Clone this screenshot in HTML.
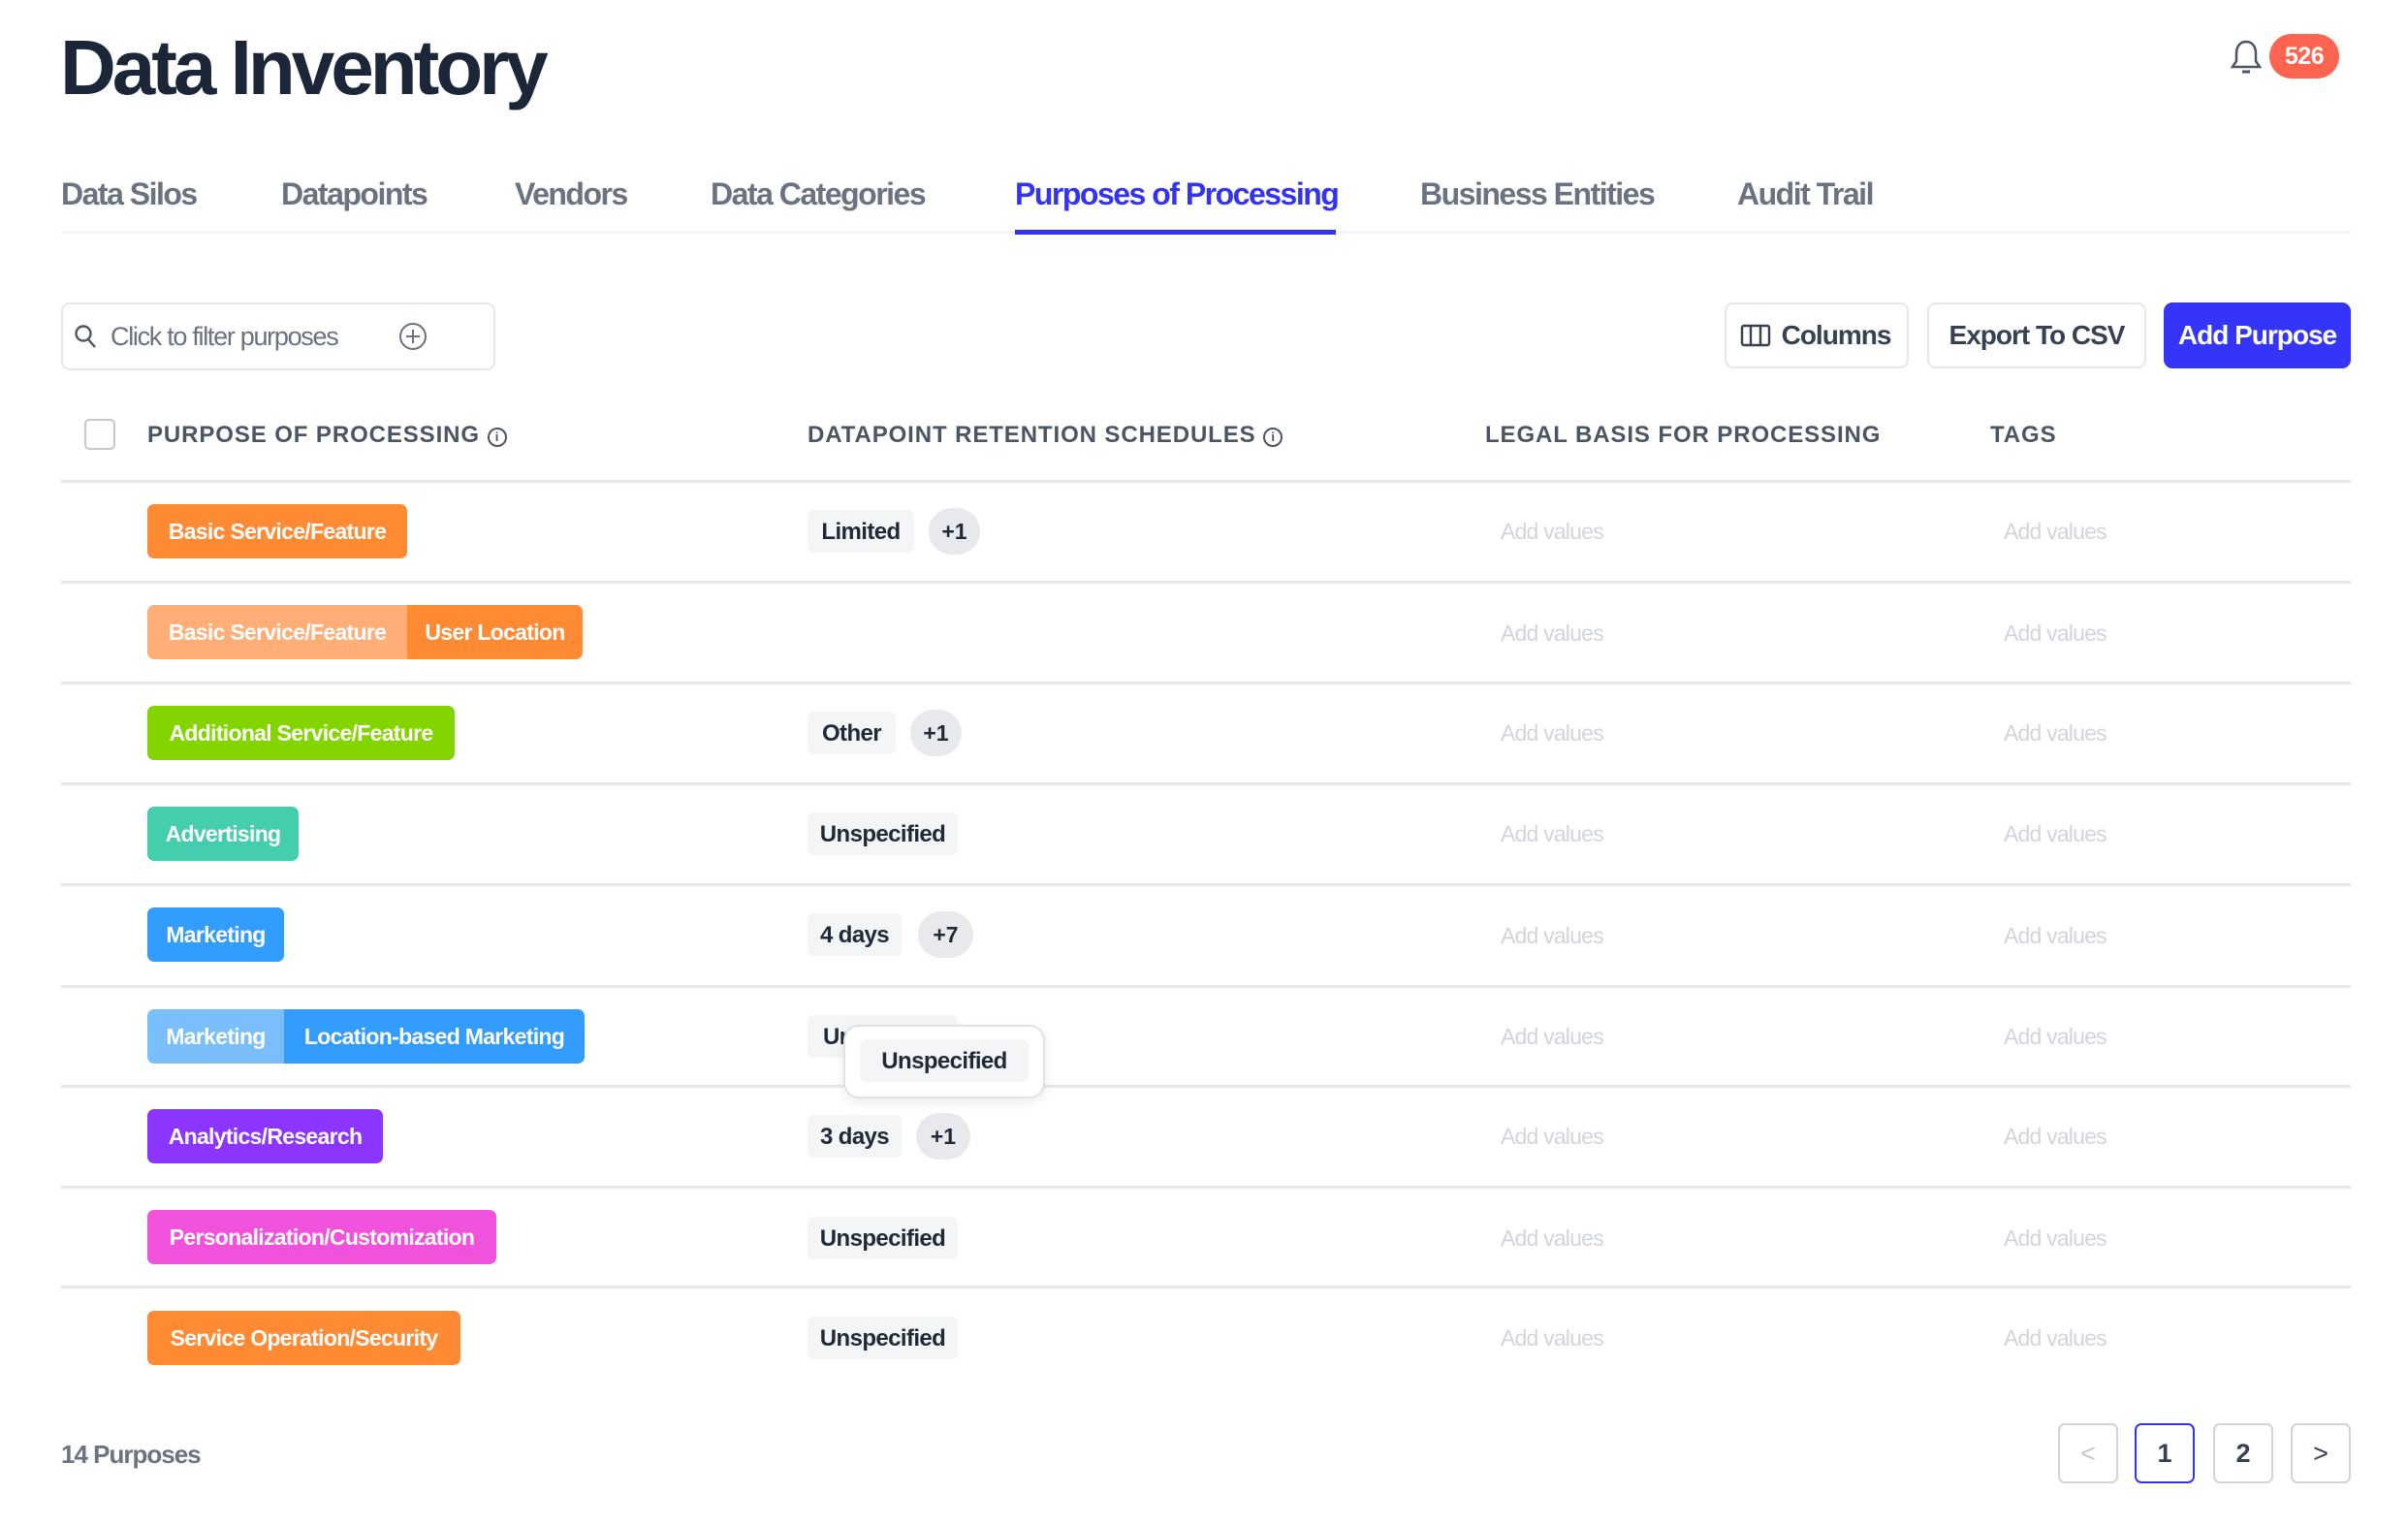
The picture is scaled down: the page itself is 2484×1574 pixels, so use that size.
<!DOCTYPE html>
<html><head><meta charset="utf-8"><style>
*{margin:0;padding:0;box-sizing:border-box}
body{width:2484px;height:1574px;background:#fff;font-family:"Liberation Sans",sans-serif;position:relative;overflow:hidden}
.a{position:absolute;white-space:nowrap}
.tab{top:178px;font-size:32px;font-weight:bold;letter-spacing:-1.5px;color:#6b7280;line-height:44px}
.hd{top:434px;font-size:24px;font-weight:bold;letter-spacing:0.9px;color:#4b5563;line-height:30px}
.line{left:63px;width:2362px;height:3px;background:#e8e8ea}
.tag{height:56px;line-height:56px;color:#fff;font-weight:bold;font-size:23px;letter-spacing:-0.7px;text-align:center;border-radius:7px}
.chip{height:44px;line-height:46px;background:#f4f5f7;color:#1f2937;font-weight:bold;font-size:24px;letter-spacing:-0.6px;text-align:center;border-radius:7px}
.plus{height:48px;line-height:48px;background:#e8e9ed;color:#1f2937;font-weight:bold;font-size:23px;text-align:center;border-radius:24px}
.av{font-size:23px;color:#d1d5db;letter-spacing:-0.8px;line-height:30px}
.btn{top:312px;height:68px;border:2px solid #e5e7eb;border-radius:9px;font-size:28px;font-weight:bold;letter-spacing:-1px;color:#374151;line-height:64px;text-align:center}
.pg{top:1468px;width:62px;height:62px;border:2px solid #d1d5db;border-radius:7px;text-align:center;line-height:58px;font-size:27px;font-weight:bold;color:#374151}
</style></head><body>
<div class="a" style="left:62px;top:20px;font-size:80px;font-weight:bold;letter-spacing:-4px;color:#1b2638;line-height:100px">Data Inventory</div>
<svg class="a" style="left:2300px;top:40px" width="34" height="40" viewBox="0 0 34 40"><path d="M17 3c-7 0-10 6-10 12v8l-4 6h28l-4-6v-8c0-6-3-12-10-12z" fill="none" stroke="#4b5563" stroke-width="2.5"/><path d="M13 34h8" stroke="#4b5563" stroke-width="3"/></svg>
<div class="a" style="left:2341px;top:35px;width:72px;height:46px;border-radius:23px;background:#ff6450;color:#fff;font-weight:bold;font-size:25px;text-align:center;line-height:46px;letter-spacing:-0.5px">526</div>

<div class="a tab" style="left:63px">Data Silos</div>
<div class="a tab" style="left:290px">Datapoints</div>
<div class="a tab" style="left:531px">Vendors</div>
<div class="a tab" style="left:733px">Data Categories</div>
<div class="a tab" style="left:1047px;color:#3333f5">Purposes of Processing</div>
<div class="a tab" style="left:1465px">Business Entities</div>
<div class="a tab" style="left:1792px">Audit Trail</div>
<div class="a" style="left:63px;top:238px;width:2362px;height:3px;background:#f3f4f6"></div>
<div class="a" style="left:1047px;top:237px;width:331px;height:5px;background:#3333f5"></div>

<div class="a" style="left:63px;top:312px;width:448px;height:70px;border:2px solid #e5e7eb;border-radius:9px"></div>
<svg class="a" style="left:76px;top:334px" width="26" height="28" viewBox="0 0 26 28"><circle cx="10" cy="10" r="7.5" fill="none" stroke="#4b5563" stroke-width="2.4"/><path d="M15 16l7 8" stroke="#4b5563" stroke-width="2.4"/></svg>
<div class="a" style="left:114px;top:330px;font-size:27px;color:#6b7280;letter-spacing:-1.3px;line-height:34px">Click to filter purposes</div>
<svg class="a" style="left:411px;top:332px" width="30" height="30" viewBox="0 0 30 30"><circle cx="15" cy="15" r="13" fill="none" stroke="#6b7280" stroke-width="2"/><path d="M15 8v14M8 15h14" stroke="#6b7280" stroke-width="2"/></svg>

<div class="a btn" style="left:1779px;width:190px;padding-left:40px">Columns</div>
<svg class="a" style="left:1795px;top:334px" width="32" height="24" viewBox="0 0 32 24"><rect x="2" y="2" width="28" height="20" rx="2" fill="none" stroke="#374151" stroke-width="2.4"/><path d="M11 2v20M21 2v20" stroke="#374151" stroke-width="2.4"/></svg>
<div class="a btn" style="left:1988px;width:226px">Export To CSV</div>
<div class="a btn" style="left:2232px;width:193px;background:#3535fa;border-color:#3535fa;color:#fff">Add Purpose</div>

<div class="a" style="left:87px;top:432px;width:32px;height:32px;border:2px solid #c4c8cf;border-radius:5px"></div>
<div class="a hd" style="left:152px">PURPOSE OF PROCESSING <span style="display:inline-block;width:20px;height:20px;border:2px solid #4b5563;border-radius:50%;font-size:13px;line-height:16px;text-align:center;vertical-align:1px;letter-spacing:0">i</span></div>
<div class="a hd" style="left:833px">DATAPOINT RETENTION SCHEDULES <span style="display:inline-block;width:20px;height:20px;border:2px solid #4b5563;border-radius:50%;font-size:13px;line-height:16px;text-align:center;vertical-align:1px;letter-spacing:0">i</span></div>
<div class="a hd" style="left:1532px">LEGAL BASIS FOR PROCESSING</div>
<div class="a hd" style="left:2053px">TAGS</div>

<div class="a line" style="top:495px"></div>
<div class="a line" style="top:599px"></div>
<div class="a line" style="top:703px"></div>
<div class="a line" style="top:807px"></div>
<div class="a line" style="top:911px"></div>
<div class="a line" style="top:1016px"></div>
<div class="a line" style="top:1119px"></div>
<div class="a line" style="top:1223px"></div>
<div class="a line" style="top:1326px"></div>

<div class="a tag" style="left:152px;top:520px;width:268px;background:#ff8a34">Basic Service/Feature</div>
<div class="a chip" style="left:833px;top:526px;width:110px">Limited</div>
<div class="a plus" style="left:958px;top:524px;width:53px">+1</div>
<div class="a tag" style="left:152px;top:624px;width:268px;background:#ffae78;border-radius:7px 0 0 7px">Basic Service/Feature</div>
<div class="a tag" style="left:420px;top:624px;width:181px;background:#ff8a34;border-radius:0 7px 7px 0">User Location</div>
<div class="a tag" style="left:152px;top:728px;width:317px;background:#84d400">Additional Service/Feature</div>
<div class="a chip" style="left:833px;top:734px;width:91px">Other</div>
<div class="a plus" style="left:939px;top:732px;width:53px">+1</div>
<div class="a tag" style="left:152px;top:832px;width:156px;background:#45ceae">Advertising</div>
<div class="a chip" style="left:833px;top:838px;width:155px">Unspecified</div>
<div class="a tag" style="left:152px;top:936px;width:141px;background:#339cff">Marketing</div>
<div class="a chip" style="left:833px;top:942px;width:97px">4 days</div>
<div class="a plus" style="left:947px;top:940px;width:57px">+7</div>
<div class="a tag" style="left:152px;top:1041px;width:141px;background:#7bbefc;border-radius:7px 0 0 7px">Marketing</div>
<div class="a tag" style="left:293px;top:1041px;width:310px;background:#339cff;border-radius:0 7px 7px 0">Location-based Marketing</div>
<div class="a chip" style="left:833px;top:1047px;width:155px;text-align:left;padding-left:16px">Unspecified</div>
<div class="a" style="left:870px;top:1057px;width:208px;height:76px;background:#fff;border:2px solid #e0e2e6;border-radius:16px;box-shadow:0 4px 12px rgba(0,0,0,0.08)"></div>
<div class="a chip" style="left:887px;top:1072px;width:174px;height:44px">Unspecified</div>
<div class="a tag" style="left:152px;top:1144px;width:243px;background:#8c35ff">Analytics/Research</div>
<div class="a chip" style="left:833px;top:1150px;width:97px">3 days</div>
<div class="a plus" style="left:945px;top:1148px;width:56px">+1</div>
<div class="a tag" style="left:152px;top:1248px;width:360px;background:#f052dc">Personalization/Customization</div>
<div class="a chip" style="left:833px;top:1255px;width:155px">Unspecified</div>
<div class="a tag" style="left:152px;top:1352px;width:323px;background:#ff8a34">Service Operation/Security</div>
<div class="a chip" style="left:833px;top:1358px;width:155px">Unspecified</div>

<div class="a av" style="left:1548px;top:533px">Add values</div><div class="a av" style="left:2067px;top:533px">Add values</div>
<div class="a av" style="left:1548px;top:638px">Add values</div><div class="a av" style="left:2067px;top:638px">Add values</div>
<div class="a av" style="left:1548px;top:741px">Add values</div><div class="a av" style="left:2067px;top:741px">Add values</div>
<div class="a av" style="left:1548px;top:845px">Add values</div><div class="a av" style="left:2067px;top:845px">Add values</div>
<div class="a av" style="left:1548px;top:950px">Add values</div><div class="a av" style="left:2067px;top:950px">Add values</div>
<div class="a av" style="left:1548px;top:1054px">Add values</div><div class="a av" style="left:2067px;top:1054px">Add values</div>
<div class="a av" style="left:1548px;top:1157px">Add values</div><div class="a av" style="left:2067px;top:1157px">Add values</div>
<div class="a av" style="left:1548px;top:1262px">Add values</div><div class="a av" style="left:2067px;top:1262px">Add values</div>
<div class="a av" style="left:1548px;top:1365px">Add values</div><div class="a av" style="left:2067px;top:1365px">Add values</div>

<div class="a" style="left:63px;top:1483px;font-size:26px;font-weight:bold;color:#6b7280;letter-spacing:-1px;line-height:34px">14 Purposes</div>
<div class="a pg" style="left:2123px;color:#c4c8cf;font-weight:normal">&lt;</div>
<div class="a pg" style="left:2202px;border-color:#3333f5">1</div>
<div class="a pg" style="left:2283px">2</div>
<div class="a pg" style="left:2363px;font-weight:normal">&gt;</div>
</body></html>
